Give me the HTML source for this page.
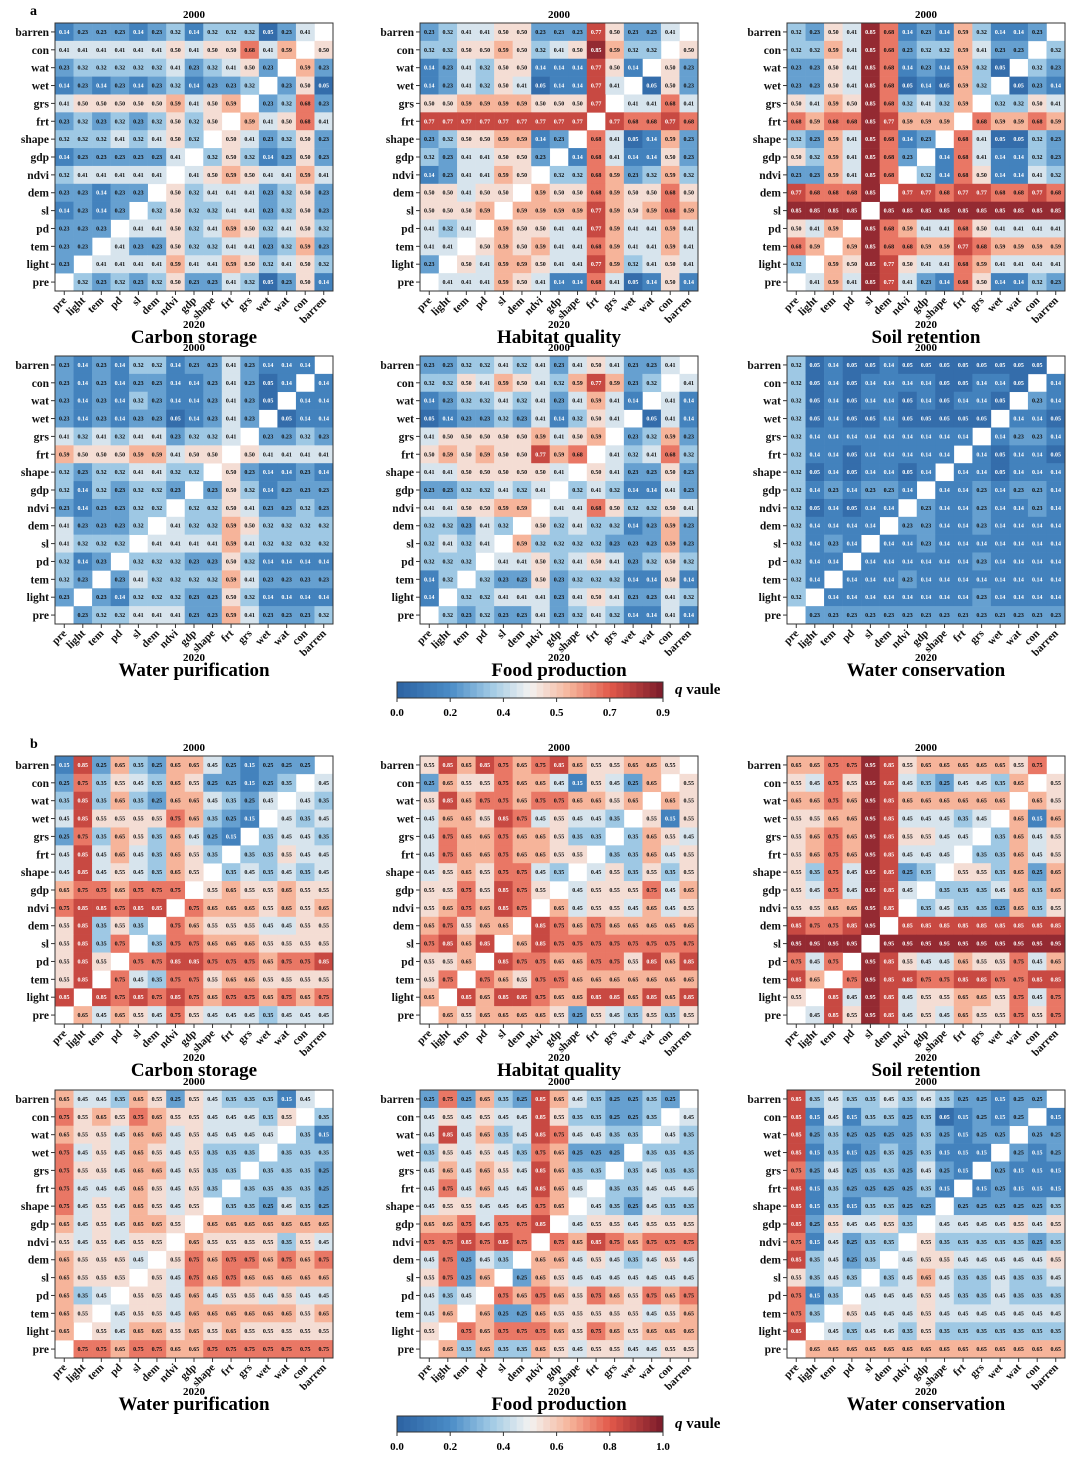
<!DOCTYPE html>
<html><head><meta charset="utf-8"><style>
html,body{margin:0;padding:0;background:#fff;}
svg{display:block;font-family:"Liberation Serif",serif;}
</style></head><body>
<svg id="fig" width="1080" height="1463" viewBox="0 0 1080 1463"></svg>
<script>
const rowLabels = ["barren","con","wat","wet","grs","frt","shape","gdp","ndvi","dem","sl","pd","tem","light","pre"];
const colLabels = ["pre","light","tem","pd","sl","dem","ndvi","gdp","shape","frt","grs","wet","wat","con","barren"];
const titles = ["Carbon storage","Habitat quality","Soil retention","Water purification","Food production","Water conservation"];
const cbTicksA = ["0.0","0.2","0.4","0.5","0.7","0.9"];
const cbTicksB = ["0.0","0.2","0.4","0.6","0.8","1.0"];
const maxA = 0.9, maxB = 1.0;
// digits: cell value level 0-9 (value ≈ (d+0.5)/10 * max); '-' = diagonal blank
const a1 = ["12221231333024-","4444445455746-5","233333423452-62","12121231223-250","4555556456-2372","232323535-64574","33343453-542352","1222224-3531252","344444-45654464","22122-534442352","1212-3533442352","222-44534653453","22-422533442362","2-4444644653453","-32323522430251"];
const a2 = ["23445522285224-","3355653459633-5","124355111851-52","12435401184-052","5566665558-4474","888888888-87787","23556612-740162","3244552-1741152","124465-33762363","55455-655765575","5556-6666865676","434-65544864464","44-565644764464","2-5466544863454","-44465411740151"];
const a3 = ["32549712163112-","3364972336422-3","225497121630-32","22549701063-021","5465973436-3354","767798666-76676","32649712-740032","5364972-1741132","226497-31751143","87779-887887787","9999-9999999999","546-97644754444","76-697766876666","3-6598544764444","-46498421751132"];
const a4 = ["21213312242111-","2121221124201-1","212132112420-11","21212201242-011","4343442334-2232","655566455-54444","32334433-521121","3132332-2531222","212233-33542232","42223-433653333","4333-4444643333","312-33322531111","32-243333642222","2-2133322531111","-23344422642223"];
const a5 = ["22334342454224-","3354654368623-4","123343424641-41","01223241354-041","4555556456-2362","565655867-43473","44555554-542252","2233434-3431142","445566-44753354","33243-534331262","3434-6333322262","333-44534542353","13-322523331151","1-3344424542243","-32322423431141"];
const a6 = ["30100100000000-","3010111100110-1","301011010110-21","30100100000-110","3111111111-1221","311011111-10110","30101101-110111","3121221-1121221","301011-21121121","31111-221121111","3121-1121111111","311-11111121111","31-111211111111","3-1111111121111","-22222222222222"];
const b1 = ["18263266421222-","2735436522123-4","383632664324-43","48555576321-434","2736536421-3443","484643653-33544","48454365-343434","6776777-5655655","788788-76665656","58353-765554455","5837-3776665555","585-77887776778","58-743775665555","8-8787876776767","-64654754443444"];
const b2 = ["58687678655665-","2655766415426-5","586776776656-65","46658745443-515","4766766533-3654","476676655-33645","45657743-453535","5575875-4555746","567687-64554645","67566-876766666","7868-6877777777","556-87766775868","57-765776666666","6-8688766886868","-65666652543535"];
const b3 = ["66779856666657-","5475984324436-5","667698666666-65","55669844434-616","5676985544-3645","567698444-33645","53749823-553626","5474984-3334636","556698-34332635","87789-888888888","9999-9999999999","747-98544655746","86-798877887788","5-8498455665747","-48598454655757"];
const b4 = ["64436525433314-","7565765544435-3","655466454444-31","74546545333-333","7554664533-3332","744465453-33332","74546545-332432","6454665-6666666","545455-65555354","65554-576776767","6555-5476766666","634-55464554544","65-455466666656","6-5466565655555","-77677667777777"];
const b5 = ["27263286432232-","4545448533223-4","484634874433-43","35454376222-333","4646548633-3433","474644864-33444","45544476-432433","6674778-4554555","778787-76876777","47243-664543454","5726-2654444444","434-76765765767","46-622655555456","5-7677765765666","-63633654554455"];
const b6 = ["83433434322122-","8141332301212-1","823222232122-22","81312323111-212","7242332421-2111","813222231-12111","81313322-222223","8254453-4444545","714233-53333323","83423-455444445","5343-3464334334","713-44454334333","73-544454444444","8-4344353333333","-66666666666666"];
const matsA = [a1,a2,a3,a4,a5,a6];
const matsB = [b1,b2,b3,b4,b5,b6];

const NS = "http://www.w3.org/2000/svg";
const svg = document.getElementById("fig");
function mk(tag, attrs, parent){const e=document.createElementNS(NS,tag);for(const k in attrs)e.setAttribute(k,attrs[k]);(parent||svg).appendChild(e);return e;}
function parseRow(s,r){const out=[];for(const ch of s){if(ch===' '||ch==='-')continue;out.push(+ch);}
  const res=[];let k=0;for(let c=0;c<15;c++){if(c===14-r){res.push(null);}else{res.push(k<out.length?out[k]:4);k++;}}return res;}
const stops=[[0,[44,98,162]],[0.2,[74,140,198]],[0.35,[158,200,228]],[0.5,[243,242,241]],[0.65,[246,180,154]],[0.8,[226,89,74]],[1,[122,26,42]]];
function cmap(t){t=Math.max(0,Math.min(1,t));for(let i=1;i<stops.length;i++){if(t<=stops[i][0]){const a=stops[i-1],b=stops[i];const f=(t-a[0])/(b[0]-a[0]);return "rgb("+a[1].map((v,j)=>Math.round(v+(b[1][j]-v)*f)).join(",")+")";}}return "rgb(122,26,42)";}

const colX=[55,420,787];
const W=278,H=268;
function heatmap(mat,x0,bottom,title,maxV,idx){
  const g=mk("g",{});
  
  
  const top=bottom-H, cw=W/15, ch=H/15;
  const xs=c=>x0+c*cw, ys=r=>top+r*ch;
  mat.forEach((rs,r)=>{const row=parseRow(rs,r);row.forEach((d,c)=>{
    if(d===null)return;
    const t=(d+0.5)/10;
    const rect=mk("rect",{x:xs(c),y:ys(r),width:cw+0.3,height:ch+0.3,fill:cmap(t)},g);
    
    
    const tx=mk("text",{x:xs(c)+cw/2,y:ys(r)+ch/2+2,"font-size":6,"font-weight":"bold","text-anchor":"middle",fill:(t<0.22||t>0.78)?"#fff":"#111"},g);
    tx.textContent=(t*maxV).toFixed(2);
  });});
  mk("rect",{x:x0,y:top,width:W,height:H,fill:"none",stroke:"#333","stroke-width":1},g);
  rowLabels.forEach((l,r)=>{
    const y=ys(r)+ch/2;
    mk("line",{x1:x0-4,x2:x0,y1:y,y2:y,stroke:"#333"},g);
    const t=mk("text",{x:x0-6,y:y+4,"font-size":11.5,"font-weight":"bold","text-anchor":"end",fill:"#111"},g);
    t.textContent=l;
    
    
  });
  colLabels.forEach((l,c)=>{
    const x=xs(c)+cw/2;
    mk("line",{x1:x,x2:x,y1:bottom,y2:bottom+4,stroke:"#333"},g);
    const t=mk("text",{x:x+3,y:bottom+10,"font-size":11,"font-weight":"bold","text-anchor":"end",fill:"#111",transform:"rotate(-45 "+(x+3)+" "+(bottom+10)+")"},g);
    t.textContent=l;
    
    
  });
  const y0=mk("text",{x:x0+W/2,y:top-5,"font-size":11,"font-weight":"bold","text-anchor":"middle"},g);y0.textContent="2000";
  const y1=mk("text",{x:x0+W/2,y:bottom+37,"font-size":11,"font-weight":"bold","text-anchor":"middle"},g);y1.textContent="2020";
  const tt=mk("text",{x:x0+W/2,y:bottom+52,"font-size":19,"font-weight":"bold","text-anchor":"middle"},g);tt.textContent=title;
  
  
}
function colorbar(y,ticks,pos){
  const g=mk("g",{});
  
  
  const x0=397,w=266,n=40;
  for(let i=0;i<n;i++)mk("rect",{x:x0+i*w/n,y:y,width:w/n+0.4,height:16,fill:cmap((i+0.5)/n)},g);
  mk("rect",{x:x0,y:y,width:w,height:16,fill:"none",stroke:"#333"},g);
  ticks.forEach((l,i)=>{const x=x0+pos[i]*w;mk("line",{x1:x,x2:x,y1:y+16,y2:y+20,stroke:"#333"},g);
    const t=mk("text",{x:x,y:y+34,"font-size":11,"font-weight":"bold","text-anchor":"middle"},g);t.textContent=l;});
  const q=mk("text",{x:675,y:y+12,"font-size":15,"font-weight":"bold"},g);
  q.innerHTML='<tspan font-style="italic">q</tspan> vaule';
}
const lblA=mk("text",{x:30,y:15,"font-size":14,"font-weight":"bold"});lblA.textContent="a";


const lblB=mk("text",{x:30,y:748,"font-size":14,"font-weight":"bold"});lblB.textContent="b";


const bottomsA=[291,624], bottomsB=[1024,1358];
matsA.forEach((m,i)=>heatmap(m,colX[i%3],bottomsA[Math.floor(i/3)],titles[i],maxA,'a'));
matsB.forEach((m,i)=>heatmap(m,colX[i%3],bottomsB[Math.floor(i/3)],titles[i],maxB,'b'));
colorbar(682,cbTicksA,[0,0.2,0.4,0.6,0.8,1]);
colorbar(1416,cbTicksB,[0,0.2,0.4,0.6,0.8,1]);
</script>
</body></html>
